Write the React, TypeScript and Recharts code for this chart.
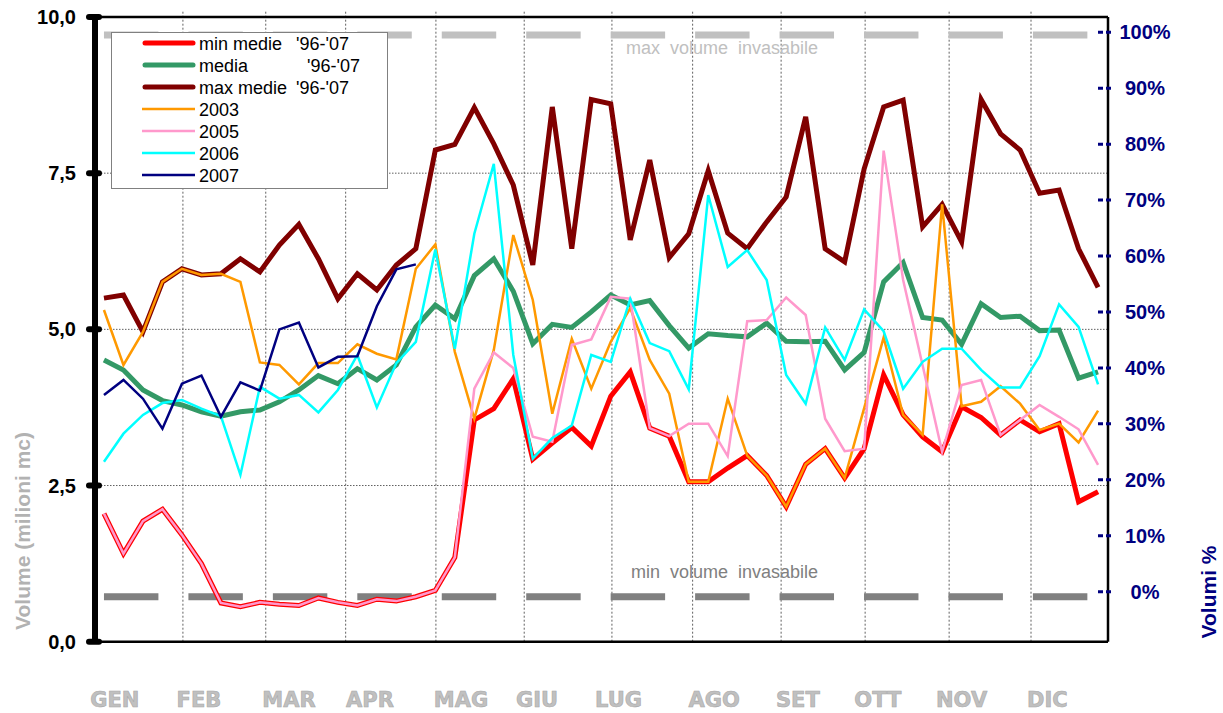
import React from 'react'
import { LineChart, Line, XAxis, YAxis, ReferenceLine } from 'recharts'

// weekly readings, one value per week of the year
const MIN_MEDIE = [2.05, 1.41, 1.93, 2.12, 1.71, 1.25, 0.62, 0.56, 0.63, 0.6, 0.58, 0.7, 0.63, 0.58, 0.68, 0.65, 0.72, 0.82, 1.35, 3.55, 3.73, 4.21, 2.92, 3.18, 3.43, 3.13, 3.93, 4.32, 3.42, 3.29, 2.56, 2.56, 2.78, 2.98, 2.66, 2.16, 2.84, 3.09, 2.62, 3.09, 4.27, 3.63, 3.28, 3.04, 3.76, 3.59, 3.31, 3.55, 3.36, 3.49, 2.24, 2.4]
const MEDIA = [4.51, 4.35, 4.03, 3.86, 3.79, 3.68, 3.61, 3.68, 3.71, 3.84, 4.03, 4.26, 4.13, 4.37, 4.19, 4.43, 5.04, 5.39, 5.17, 5.86, 6.13, 5.61, 4.77, 5.08, 5.03, 5.28, 5.55, 5.39, 5.46, 5.06, 4.7, 4.93, 4.9, 4.88, 5.1, 4.81, 4.8, 4.81, 4.35, 4.63, 5.76, 6.07, 5.19, 5.15, 4.76, 5.41, 5.19, 5.21, 4.98, 4.99, 4.22, 4.32]
const MAX_MEDIE = [5.5, 5.55, 4.96, 5.76, 5.97, 5.87, 5.89, 6.13, 5.92, 6.35, 6.68, 6.13, 5.49, 5.89, 5.63, 6.03, 6.29, 7.87, 7.96, 8.55, 7.97, 7.31, 6.03, 8.56, 6.29, 8.68, 8.61, 6.43, 7.71, 6.15, 6.53, 7.54, 6.54, 6.29, 6.72, 7.12, 8.4, 6.29, 6.08, 7.57, 8.56, 8.67, 6.64, 7.0, 6.4, 8.68, 8.13, 7.87, 7.18, 7.23, 6.29, 5.67]
const Y2003 = [5.31, 4.43, 4.96, 5.76, 5.97, 5.87, 5.89, 5.76, 4.47, 4.43, 4.12, 4.46, 4.46, 4.76, 4.61, 4.52, 5.97, 6.36, 4.64, 3.57, 4.67, 6.51, 5.47, 3.65, 4.85, 4.05, 4.8, 5.34, 4.51, 3.97, 2.56, 2.56, 3.89, 2.98, 2.66, 2.16, 2.84, 3.09, 2.62, 3.74, 4.87, 3.63, 3.31, 7.0, 3.77, 3.84, 4.09, 3.81, 3.39, 3.49, 3.19, 3.7]
const Y2005 = [2.05, 1.41, 1.93, 2.12, 1.71, 1.25, 0.62, 0.56, 0.63, 0.6, 0.58, 0.7, 0.63, 0.58, 0.68, 0.65, 0.72, 0.82, 1.35, 4.05, 4.63, 4.38, 3.28, 3.2, 4.75, 4.84, 5.52, 5.49, 3.42, 3.29, 3.49, 3.49, 2.97, 5.13, 5.15, 5.51, 5.23, 3.57, 3.05, 3.09, 7.86, 5.79, 4.42, 3.04, 4.11, 4.19, 3.31, 3.55, 3.79, 3.6, 3.4, 2.83]
const Y2006 = [2.88, 3.33, 3.63, 3.82, 3.87, 3.73, 3.61, 2.67, 4.08, 3.89, 3.95, 3.67, 4.03, 4.59, 3.75, 4.46, 4.8, 6.28, 4.69, 6.53, 7.65, 4.59, 2.93, 3.26, 3.46, 4.59, 4.48, 5.49, 4.78, 4.65, 4.04, 7.15, 6.0, 6.27, 5.79, 4.27, 3.81, 5.03, 4.51, 5.32, 4.97, 4.05, 4.48, 4.69, 4.69, 4.35, 4.07, 4.07, 4.57, 5.4, 5.04, 4.12]
const Y2007 = [3.95, 4.19, 3.89, 3.41, 4.13, 4.26, 3.6, 4.15, 4.02, 5.0, 5.11, 4.39, 4.56, 4.57, 5.37, 5.96, 6.04]

const MONTHS = ['GEN', 'FEB', 'MAR', 'APR', 'MAG', 'GIU', 'LUG', 'AGO', 'SET', 'OTT', 'NOV', 'DIC']
// where each month name sits, in weeks
const MONTH_LABEL_AT = [0.56, 4.87, 9.49, 13.65, 18.32, 22.22, 26.4, 31.3, 35.6, 39.7, 44.0, 48.4]
// first week of each month (dotted separators)
const MONTH_STARTS = [4.05, 8.3, 12.4, 17.03, 21.56, 26.06, 30.2, 34.74, 39.05, 43.36, 47.56]

const VOL_TICKS = [0, 2.5, 5, 7.5, 10]
const VOL_GRID = [2.5, 5, 7.5]
const PCT_TICKS = [0, 10, 20, 30, 40, 50, 60, 70, 80, 90, 100]

const MAX_INVASABILE = 9.71
const MIN_INVASABILE = 0.72

const FONT = '"Liberation Sans", Arial, sans-serif'
const NAVY = '#000080'

const data = MAX_MEDIE.map((_, i) => ({
	week: i,
	min: MIN_MEDIE[i],
	media: MEDIA[i],
	max: MAX_MEDIE[i],
	y2003: Y2003[i],
	y2005: Y2005[i],
	y2006: Y2006[i],
	y2007: i < Y2007.length ? Y2007[i] : null,
}))

const SERIES = [
	{ key: 'min', label: 'min medie', suffix: "'96-'07", suffixX: 184, color: '#ff0000', width: 5 },
	{ key: 'media', label: 'media', suffix: "'96-'07", suffixX: 195, color: '#339966', width: 5 },
	{ key: 'max', label: 'max medie', suffix: "'96-'07", suffixX: 184, color: '#800000', width: 5 },
	{ key: 'y2003', label: '2003', color: '#ff9900', width: 2.5 },
	{ key: 'y2005', label: '2005', color: '#ff99cc', width: 2.5 },
	{ key: 'y2006', label: '2006', color: '#00ffff', width: 2.5 },
	{ key: 'y2007', label: '2007', color: NAVY, width: 2.5 },
]

const VolTick = ({ x, y, payload }: any) => (
	<g>
		<line x1={x - 6} x2={x + 4} y1={y} y2={y} stroke="#000" strokeWidth={6} strokeLinecap="round" />
		<text x={x - 19} y={y} textAnchor="end" dominantBaseline="central" fontFamily={FONT} fontWeight="bold" fontSize={20} fill="#000">
			{payload.value.toFixed(1).replace('.', ',')}
		</text>
	</g>
)

const PctTick = ({ x, y, payload }: any) => (
	<g>
		<line x1={x - 10} x2={x + 4} y1={y} y2={y} stroke={NAVY} strokeWidth={3} strokeDasharray="5 3" />
		<text x={x + 37} y={y} textAnchor="middle" dominantBaseline="central" fontFamily={FONT} fontWeight="bold" fontSize={20} fill={NAVY}>
			{payload.value}%
		</text>
	</g>
)

const MonthTick = ({ x, y, index }: any) => (
	<text
		x={x}
		y={y + 58}
		textAnchor="middle"
		dominantBaseline="central"
		fontFamily='"DejaVu Sans", sans-serif'
		fontWeight="bold"
		fontSize={21}
		fill="#c0c0c0"
		stroke="#a8a8a8"
		strokeWidth={0.6}
	>
		{MONTHS[index]}
	</text>
)

const invLabel = (text: string, color: string, dx: number, dy: number) => (props: any) => {
	const vb = props.viewBox || { x: 0, y: 0 }
	return (
		<text x={vb.x + dx} y={vb.y + dy} dominantBaseline="central" fontFamily={FONT} fontSize={18} fill={color} style={{ whiteSpace: 'pre' }}>
			{text}
		</text>
	)
}

function LegendBox() {
	return (
		<div style={{ position: 'absolute', left: 111, top: 32, width: 277, height: 157, background: '#fff', border: '1px solid #808080', boxSizing: 'border-box' }}>
			<svg width={275} height={155} style={{ display: 'block' }}>
				{SERIES.map((s, i) => {
					const cy = 10 + i * 22
					const thick = s.width > 3
					return (
						<g key={s.key}>
							<line x1={thick ? 33 : 30} x2={thick ? 81 : 83} y1={cy} y2={cy} stroke={s.color} strokeWidth={s.width} strokeLinecap={thick ? 'round' : 'butt'} />
							<text x={87} y={cy + 1} dominantBaseline="central" fontFamily={FONT} fontSize={18} fill="#000">{s.label}</text>
							{s.suffix && (
								<text x={s.suffixX} y={cy + 1} dominantBaseline="central" fontFamily={FONT} fontSize={18} fill="#000">{s.suffix}</text>
							)}
						</g>
					)
				})}
			</svg>
		</div>
	)
}

export default function App() {
	return (
		<div style={{ position: 'absolute', left: 0, top: 0, width: 1223, height: 713, background: '#fff' }}>
			<LineChart width={1223} height={713} data={data} margin={{ top: 17, right: 55, bottom: 41.3, left: 35 }}>
				<XAxis
					dataKey="week"
					type="number"
					domain={[-0.46, 51.51]}
					allowDataOverflow
					ticks={MONTH_LABEL_AT}
					interval={0}
					tickLine={false}
					tickSize={0}
					tickMargin={0}
					height={30}
					axisLine={{ stroke: '#000', strokeWidth: 2.5 }}
					tick={<MonthTick />}
				/>
				<YAxis
					yAxisId="vol"
					domain={[0, 10]}
					ticks={VOL_TICKS}
					allowDataOverflow
					width={60}
					tickLine={false}
					tickSize={0}
					tickMargin={0}
					axisLine={{ stroke: '#000', strokeWidth: 6 }}
					tick={<VolTick />}
				/>
				<YAxis
					yAxisId="pct"
					orientation="right"
					domain={[-8.94, 102.73]}
					ticks={PCT_TICKS}
					allowDataOverflow
					width={60}
					tickLine={false}
					tickSize={0}
					tickMargin={0}
					axisLine={{ stroke: '#000', strokeWidth: 2.5 }}
					tick={<PctTick />}
				/>
				{VOL_GRID.map((v) => (
					<ReferenceLine key={'h' + v} yAxisId="vol" y={v} stroke="#606060" strokeDasharray="1.5 1.5" />
				))}
				{MONTH_STARTS.map((m) => (
					<ReferenceLine
						key={'v' + m}
						yAxisId="vol"
						segment={[{ x: m, y: 0 }, { x: m, y: 10.1 }]}
						ifOverflow="visible"
						stroke="#606060"
						strokeDasharray="2 2"
					/>
				))}
				<ReferenceLine
					yAxisId="vol"
					segment={[{ x: 0, y: MAX_INVASABILE }, { x: 51, y: MAX_INVASABILE }]}
					stroke="#c0c0c0"
					strokeWidth={7}
					strokeDasharray="54.45 30"
					label={invLabel('max  volume  invasabile', '#c0c0c0', 522, 13)}
				/>
				<ReferenceLine
					yAxisId="vol"
					segment={[{ x: 0, y: MIN_INVASABILE }, { x: 51, y: MIN_INVASABILE }]}
					stroke="#808080"
					strokeWidth={7}
					strokeDasharray="54.45 30"
					label={invLabel('min  volume  invasabile', '#808080', 527, -25)}
				/>
				{SERIES.map((s) => (
					<Line
						key={s.key}
						yAxisId="vol"
						dataKey={s.key}
						type="linear"
						stroke={s.color}
						strokeWidth={s.width}
						dot={false}
						activeDot={false}
						connectNulls={false}
						isAnimationActive={false}
					/>
				))}
				<ReferenceLine yAxisId="vol" y={10} stroke="#000" strokeWidth={2.5} />
			</LineChart>
			<svg width={1223} height={713} style={{ position: 'absolute', left: 0, top: 0, pointerEvents: 'none' }}>
				<text transform="translate(22,531) rotate(-90)" textAnchor="middle" dominantBaseline="central" fontFamily={FONT} fontWeight="bold" fontSize={21} fill="#b2b2b2">
					Volume (milioni mc)
				</text>
				<text transform="translate(1208,592) rotate(-90)" textAnchor="middle" dominantBaseline="central" fontFamily={FONT} fontWeight="bold" fontSize={21} fill={NAVY}>
					Volumi %
				</text>
			</svg>
			<LegendBox />
		</div>
	)
}
